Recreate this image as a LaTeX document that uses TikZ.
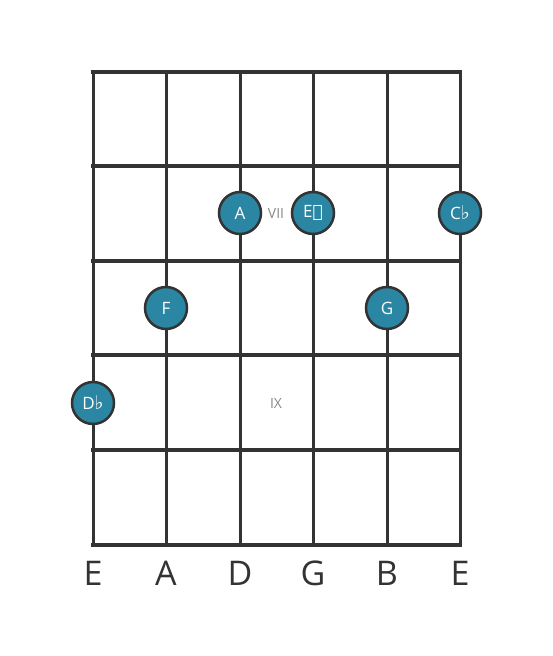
\documentclass[tikz,border=0pt]{standalone}
\usepackage{fontspec}
\setmainfont{Open Sans}
\newfontfamily\symfont{DejaVu Sans}
\definecolor{gridc}{HTML}{333333}
\definecolor{notec}{HTML}{2A86A2}
\definecolor{romc}{HTML}{888888}
\tikzset{
  fretline/.style={draw=gridc, line width=4.5pt, line cap=rect},
  stringline/.style={draw=gridc, line width=3pt},
  note/.style={circle, fill=notec, draw=gridc, line width=2.5pt, minimum size=42pt, inner sep=0pt, text=white, font=\fontsize{17}{17}\selectfont},
  roman/.style={text=romc, font=\fontsize{14}{14}\selectfont},
  strname/.style={text=gridc, font=\fontsize{34}{34}\selectfont}
}
\begin{document}
\begin{tikzpicture}[x=1pt,y=-1pt]
\useasboundingbox (0,0) rectangle (553,656);
% strings
\foreach \x [count=\i] in {93,166,240,313,387,460} {
  \coordinate (st\i) at (\x,72);
  \coordinate (sb\i) at (\x,545);
  \draw[stringline] (st\i) -- (sb\i);
}
% frets
\foreach \y [count=\j] in {72,166,261,355,450,545} {
  \coordinate (fl\j) at (93,\y);
  \coordinate (fr\j) at (460,\y);
  \draw[fretline] (fl\j) -- (fr\j);
}
\node[roman] (vii) at (276,213) {VII};
\node[roman] (ix) at (276,403) {IX};
\node[note] (nA) at (240,213) {A};
\node[note] (nE) at (313,213) {E{\symfont\char"1D12B}};
\node[note] (nC) at (460,213) {C{\symfont\fontsize{19}{19}\selectfont\char"266D}};
\node[note] (nF) at (166,308) {F};
\node[note] (nG) at (387,308) {G};
\node[note] (nD) at (93,403) {D{\symfont\fontsize{19}{19}\selectfont\char"266D}};
\foreach \x/\n [count=\i] in {93/E,166/A,240/D,313/G,387/B,460/E}
  \node[strname] (s\i) at (\x,573) {\n};
\end{tikzpicture}
\end{document}
